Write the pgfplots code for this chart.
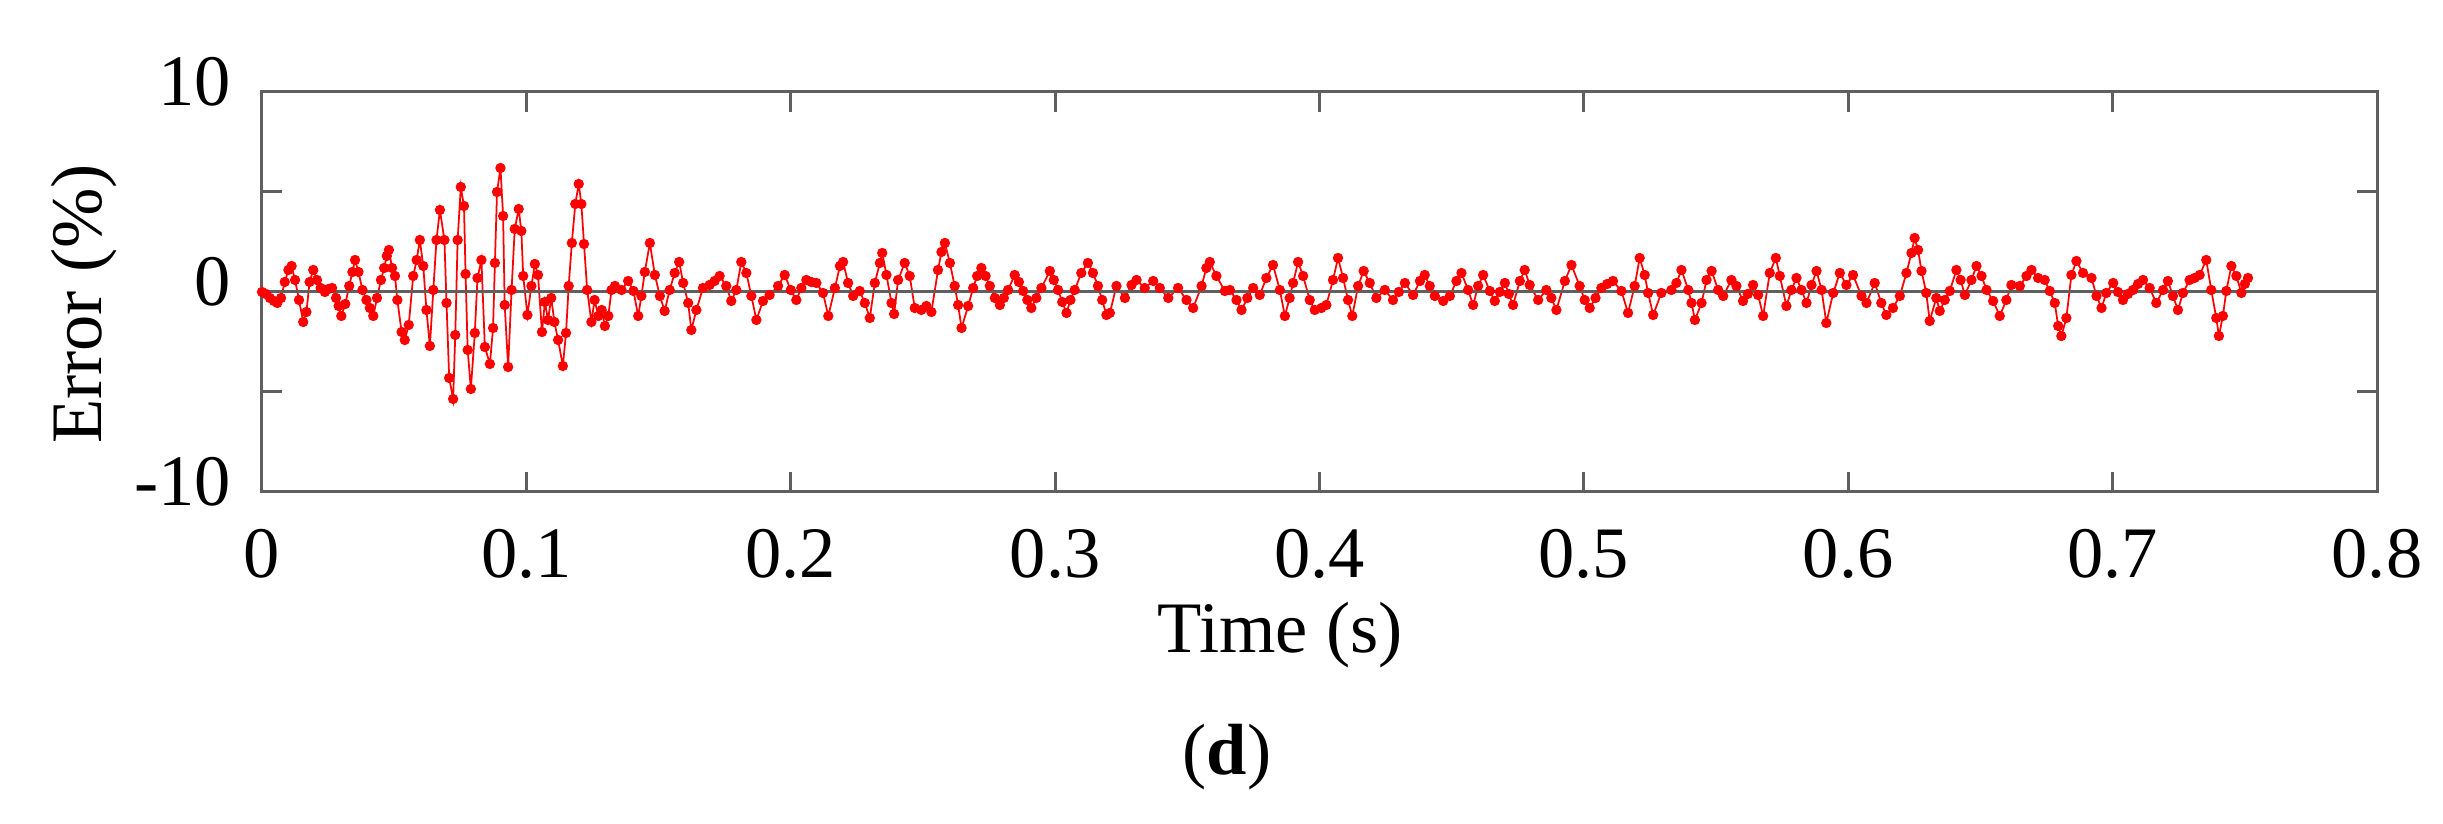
\documentclass[border=0pt]{standalone}
\usepackage{fontspec}
\setmainfont{Liberation Serif}
\usepackage{pgfplots}
\usepackage{pgfplotstable}
\pgfplotsset{compat=1.18}
\definecolor{axgray}{RGB}{95,95,95}
\pgfplotstableread{
t e
0.0000 0.00
0.0015 -0.10
0.0030 -0.30
0.0045 -0.45
0.0058 -0.55
0.0072 -0.30
0.0086 0.50
0.0100 1.10
0.0112 1.30
0.0125 0.60
0.0140 -0.40
0.0156 -1.50
0.0168 -1.00
0.0180 0.50
0.0194 1.10
0.0208 0.60
0.0222 0.20
0.0238 0.00
0.0252 0.15
0.0265 0.20
0.0280 -0.30
0.0290 -0.70
0.0300 -1.20
0.0315 -0.60
0.0330 0.30
0.0342 1.00
0.0352 1.60
0.0365 1.00
0.0380 0.10
0.0395 -0.40
0.0408 -0.80
0.0421 -1.20
0.0435 -0.30
0.0450 0.60
0.0462 1.20
0.0472 1.80
0.0480 2.10
0.0492 1.20
0.0503 0.80
0.0512 -0.40
0.0528 -2.00
0.0540 -2.40
0.0555 -1.65
0.0572 0.80
0.0585 1.60
0.0597 2.60
0.0610 1.30
0.0622 -0.90
0.0635 -2.70
0.0648 0.10
0.0660 2.60
0.0673 4.10
0.0690 2.60
0.0698 -0.55
0.0708 -4.30
0.0723 -5.35
0.0731 -2.15
0.0740 2.60
0.0752 5.25
0.0764 4.30
0.0770 0.90
0.0778 -2.90
0.0790 -4.85
0.0805 -2.05
0.0815 0.70
0.0830 1.60
0.0843 -2.75
0.0862 -3.60
0.0874 -1.80
0.0881 1.45
0.0889 5.00
0.0902 6.20
0.0912 3.80
0.0918 -0.65
0.0931 -3.75
0.0944 0.10
0.0956 3.15
0.0971 4.15
0.0981 3.05
0.0988 0.80
0.1004 -1.15
0.1019 0.30
0.1032 1.40
0.1044 0.85
0.1059 -2.00
0.1070 -0.50
0.1082 -1.40
0.1094 -0.30
0.1106 -1.50
0.1120 -2.40
0.1138 -3.70
0.1150 -2.05
0.1160 0.30
0.1172 2.45
0.1185 4.40
0.1198 5.40
0.1208 4.40
0.1218 2.40
0.1230 0.10
0.1246 -1.50
0.1258 -0.40
0.1272 -1.20
0.1285 -0.90
0.1297 -1.70
0.1310 -1.20
0.1322 0.10
0.1335 0.30
0.1360 0.10
0.1385 0.55
0.1405 0.05
0.1423 -1.20
0.1435 -0.20
0.1448 1.00
0.1467 2.45
0.1486 0.85
0.1505 -0.20
0.1523 -0.95
0.1542 0.10
0.1561 0.95
0.1578 1.50
0.1593 0.45
0.1612 -0.55
0.1624 -1.90
0.1643 -0.90
0.1668 0.20
0.1693 0.35
0.1712 0.55
0.1731 0.80
0.1756 0.30
0.1775 -0.45
0.1794 0.10
0.1813 1.50
0.1832 0.95
0.1851 -0.20
0.1870 -1.40
0.1895 -0.45
0.1920 -0.15
0.1952 0.30
0.1977 0.85
0.2000 0.10
0.2021 -0.40
0.2040 0.20
0.2059 0.60
0.2078 0.50
0.2097 0.45
0.2122 -0.05
0.2142 -1.20
0.2167 0.20
0.2186 1.30
0.2198 1.50
0.2217 0.45
0.2236 -0.20
0.2261 0.05
0.2280 -0.55
0.2299 -1.30
0.2318 0.45
0.2337 1.45
0.2346 1.95
0.2362 0.85
0.2381 -0.55
0.2391 -1.10
0.2406 0.60
0.2431 1.45
0.2450 0.80
0.2469 -0.80
0.2494 -0.90
0.2513 -0.70
0.2532 -1.00
0.2557 1.10
0.2570 2.00
0.2583 2.45
0.2602 1.45
0.2620 0.30
0.2633 -0.65
0.2646 -1.80
0.2671 -0.70
0.2690 0.20
0.2705 0.80
0.2721 1.20
0.2737 0.80
0.2753 0.30
0.2772 -0.30
0.2791 -0.65
0.2806 -0.30
0.2822 0.10
0.2847 0.85
0.2863 0.50
0.2879 0.05
0.2895 -0.40
0.2910 -0.80
0.2929 -0.30
0.2948 0.20
0.2980 1.05
0.2995 0.60
0.3011 0.10
0.3027 -0.50
0.3043 -1.05
0.3058 -0.40
0.3074 0.10
0.3099 0.95
0.3124 1.45
0.3143 0.95
0.3162 0.30
0.3178 -0.40
0.3194 -1.15
0.3207 -1.05
0.3232 0.30
0.3264 -0.30
0.3289 0.35
0.3308 0.60
0.3339 0.20
0.3371 0.55
0.3396 0.20
0.3428 -0.30
0.3465 0.20
0.3497 -0.40
0.3522 -0.80
0.3554 0.30
0.3572 1.20
0.3585 1.50
0.3610 0.80
0.3642 0.05
0.3661 0.10
0.3686 -0.40
0.3705 -0.90
0.3727 -0.30
0.3749 0.20
0.3774 -0.15
0.3799 0.70
0.3824 1.35
0.3850 0.10
0.3869 -1.20
0.3887 -0.30
0.3900 0.45
0.3919 1.50
0.3938 0.80
0.3963 -0.40
0.3982 -0.90
0.4007 -0.80
0.4026 -0.65
0.4051 0.60
0.4070 1.70
0.4089 0.70
0.4108 -0.40
0.4124 -1.20
0.4146 0.30
0.4167 1.05
0.4190 0.45
0.4215 -0.30
0.4247 0.10
0.4278 -0.40
0.4300 0.00
0.4323 0.45
0.4354 -0.15
0.4380 0.55
0.4398 0.85
0.4417 0.30
0.4436 -0.20
0.4468 -0.45
0.4493 -0.20
0.4518 0.55
0.4537 0.95
0.4562 0.10
0.4581 -0.65
0.4600 0.30
0.4619 0.85
0.4644 0.05
0.4663 -0.45
0.4682 0.00
0.4701 0.45
0.4716 -0.10
0.4732 -0.65
0.4758 0.55
0.4776 1.10
0.4795 0.35
0.4827 -0.40
0.4858 0.10
0.4877 -0.30
0.4896 -0.90
0.4928 0.55
0.4953 1.35
0.4984 0.30
0.5003 -0.40
0.5022 -0.80
0.5044 -0.30
0.5066 0.20
0.5088 0.40
0.5110 0.55
0.5142 0.05
0.5167 -1.05
0.5192 0.30
0.5211 1.70
0.5230 0.85
0.5243 -0.05
0.5262 -1.15
0.5293 -0.05
0.5331 0.10
0.5350 0.45
0.5369 1.10
0.5395 0.10
0.5407 -0.55
0.5420 -1.40
0.5445 -0.55
0.5464 0.60
0.5483 1.05
0.5508 0.10
0.5527 -0.20
0.5558 0.60
0.5577 0.30
0.5602 -0.45
0.5620 -0.10
0.5640 0.35
0.5659 -0.15
0.5678 -1.20
0.5703 0.95
0.5726 1.70
0.5741 0.80
0.5766 -0.70
0.5785 0.10
0.5804 0.70
0.5823 0.10
0.5842 -0.55
0.5861 0.35
0.5880 1.05
0.5899 0.10
0.5917 -1.55
0.5943 -0.05
0.5968 0.95
0.5993 0.35
0.6018 0.85
0.6050 -0.20
0.6069 -0.55
0.6100 0.45
0.6125 -0.55
0.6144 -1.15
0.6169 -0.80
0.6195 -0.20
0.6220 0.95
0.6239 1.95
0.6251 2.70
0.6264 2.10
0.6277 1.05
0.6295 -0.05
0.6308 -1.45
0.6333 -0.30
0.6346 -0.95
0.6365 -0.40
0.6384 0.05
0.6409 1.10
0.6425 0.60
0.6441 -0.15
0.6466 0.60
0.6485 1.30
0.6504 0.80
0.6523 0.10
0.6548 -0.45
0.6573 -1.20
0.6598 -0.40
0.6617 0.35
0.6649 0.30
0.6674 0.80
0.6693 1.10
0.6718 0.70
0.6743 0.60
0.6762 0.05
0.6781 -0.55
0.6794 -1.70
0.6806 -2.20
0.6825 -1.30
0.6844 0.85
0.6863 1.55
0.6888 0.95
0.6920 0.70
0.6939 -0.20
0.6958 -0.80
0.6976 -0.05
0.7002 0.45
0.7020 0.00
0.7039 -0.40
0.7058 -0.10
0.7077 0.10
0.7096 0.40
0.7115 0.60
0.7140 0.20
0.7165 -0.55
0.7191 0.10
0.7209 0.55
0.7228 -0.20
0.7247 -0.90
0.7266 -0.05
0.7291 0.60
0.7310 0.70
0.7329 0.85
0.7354 1.60
0.7373 0.10
0.7392 -1.30
0.7402 -2.20
0.7417 -1.20
0.7430 0.05
0.7449 1.30
0.7468 0.80
0.7487 -0.05
0.7500 0.40
0.7512 0.70
}\errdata
\begin{document}
\fontsize{14.5}{17}\selectfont
\begin{tikzpicture}
\path (-52.4pt,-66.4pt) rectangle (436.2pt,98.4pt);
\begin{axis}[
  at={(0,0)}, anchor=south west,
  scale only axis, width=423pt, height=80pt,
  xmin=0, xmax=0.8, ymin=-10, ymax=10,
  xtick={0,0.1,0.2,0.3,0.4,0.5,0.6,0.7,0.8},
  xticklabels={0,0.1,0.2,0.3,0.4,0.5,0.6,0.7,0.8},
  ytick={-10,-5,0,5,10},
  yticklabels={-10,,0,,10},
  tick align=inside,
  major tick length=4pt,
  axis line style={axgray, line width=0.6pt},
  every tick/.style={axgray, line width=0.6pt},
  xticklabel style={inner sep=0pt, anchor=north, yshift=-7.2pt},
  yticklabel style={inner sep=0pt, anchor=east, xshift=-6pt, yshift=2pt},
  clip=false,
]
\addplot[red, line width=0.35pt, mark=*, mark size=0.85pt, mark options={fill=red, draw=red}] table[x=t, y=e] {\errdata};
\addplot[axgray, line width=0.6pt, mark=none] coordinates {(0,0) (0.8,0)};
\end{axis}
\node[rotate=90, anchor=center] at (-35.6pt,37.6pt) {Error (\%)};
\node[anchor=base] at (203.6pt,-32.2pt) {Time (s)};
\node[anchor=base] at (193pt,-56.6pt) {(\textbf{d})};
\end{tikzpicture}
\end{document}
